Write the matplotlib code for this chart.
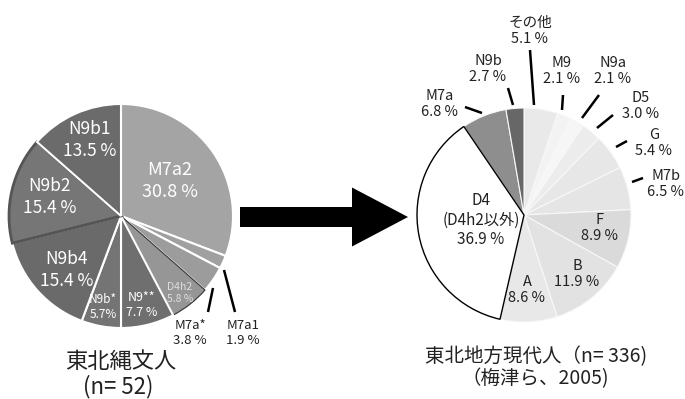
import matplotlib
matplotlib.use("Agg")
import matplotlib.pyplot as plt
from matplotlib.patches import FancyArrow

plt.rcParams['font.family'] = ['Noto Sans CJK JP', 'DejaVu Sans']

# 東北縄文人 (left pie), clockwise from 12 o'clock
jomon_labels = ['M7a2', 'M7a1', 'M7a*', 'D4h2', 'N9**', 'N9b*', 'N9b4', 'N9b2', 'N9b1']
jomon_pct = [30.8, 1.9, 3.8, 5.8, 7.7, 5.7, 15.4, 15.4, 13.5]
jomon_colors = ['#a4a4a4', '#a0a0a0', '#9c9c9c', '#969696', '#6f6f6f',
                '#747474', '#6a6a6a', '#767676', '#6b6b6b']

# 東北地方現代人 (right pie), clockwise from 12 o'clock
modern_labels = ['その他', 'M9', 'N9a', 'D5', 'G', 'M7b', 'F', 'B', 'A',
                 'D4\n(D4h2以外)', 'M7a', 'N9b']
modern_pct = [5.1, 2.1, 2.1, 3.0, 5.4, 6.5, 8.9, 11.9, 8.6, 36.9, 6.8, 2.7]
modern_colors = ['#e9e9e9', '#f3f3f3', '#f6f6f6', '#ececec', '#e7e7e7', '#e5e5e5',
                 '#dadada', '#e2e2e2', '#e8e8e8', '#ffffff', '#8e8e8e', '#676767']

W, H = 685, 399


def Y(y):
    # picture rows go down, axes go up
    return H - y


fig = plt.figure(figsize=(6.85, 3.99), dpi=100)
ax = fig.add_axes([0, 0, 1, 1])

# left pie
wl, _ = ax.pie(jomon_pct, colors=jomon_colors, startangle=90, counterclock=False,
               center=(121, Y(216)), radius=112,
               wedgeprops=dict(edgecolor='white', linewidth=1.5))
wl[3].set_edgecolor('#333333')
wl[3].set_linewidth(0.8)
wl[7].set_edgecolor('#555555')
wl[7].set_linewidth(2)

# right pie
wr, _ = ax.pie(modern_pct, colors=modern_colors, startangle=90, counterclock=False,
               center=(524, Y(215)), radius=107,
               wedgeprops=dict(edgecolor='#f8f8f8', linewidth=0.8))
wr[9].set_edgecolor('black')
wr[9].set_linewidth(1.0)
wr[9].set_zorder(3)

# text positions (pixels) and font sizes
jomon_text = {
    'M7a2': (170, 181, 13, 'white'),
    'N9b1': (90, 140, 12.5, 'white'),
    'N9b2': (50, 197, 12.5, 'white'),
    'N9b4': (67, 270, 12.5, 'white'),
    'N9b*': (103, 307, 8.5, 'white'),
    'N9**': (142, 305, 9, 'white'),
    'D4h2': (180, 293, 7.5, '#dddddd'),
    'M7a*': (190, 333, 9.5, '#222222'),
    'M7a1': (243, 333, 9.5, '#222222'),
}
for lab, pct in zip(jomon_labels, jomon_pct):
    x, y, fs, c = jomon_text[lab]
    sep = '' if lab == 'N9b*' else ' '
    ax.text(x, Y(y), f'{lab}\n{pct}{sep}%', ha='center', va='center',
            fontsize=fs, color=c, linespacing=1.25)

modern_text = {
    'その他': (530, 31, 10.5),
    'M9': (562, 71, 10.5),
    'N9a': (613, 71, 10.5),
    'D5': (641, 106, 10.5),
    'G': (654, 143, 10.5),
    'M7b': (666, 184, 10.5),
    'F': (600, 228, 10.5),
    'B': (577, 274, 10.5),
    'A': (527, 290, 10.5),
    'D4\n(D4h2以外)': (481, 220, 11),
    'M7a': (440, 104, 10.5),
    'N9b': (488, 69, 10.5),
}
for lab, pct in zip(modern_labels, modern_pct):
    x, y, fs = modern_text[lab]
    ax.text(x, Y(y), f'{lab}\n{pct:.1f} %', ha='center', va='center',
            fontsize=fs, color='#222222', linespacing=1.2)

# leader lines
leaders = [
    ((213, 288), (208, 312)), ((224, 270), (235, 312)),
    ((530, 50), (534, 105)), ((508, 88), (513, 105)), ((465, 107), (482, 113)),
    ((563, 95), (562, 110)), ((599, 95), (582, 118)), ((613, 115), (597, 128)),
    ((627, 141), (616, 147)), ((643, 178), (632, 182)),
]
for (x0, y0), (x1, y1) in leaders:
    ax.plot([x0, x1], [Y(y0), Y(y1)], color='black', linewidth=1.8,
            solid_capstyle='butt')

# arrow
ax.add_patch(FancyArrow(240, Y(217), 168, 0, width=20, head_width=59,
                        head_length=56, length_includes_head=True,
                        color='black', linewidth=0))

ax.text(121, Y(361), '東北縄文人', ha='center', va='center', fontsize=16, color='#222222')
ax.text(118, Y(387), '(n= 52)', ha='center', va='center', fontsize=16, color='#222222')
ax.text(536, Y(357), '東北地方現代人（n= 336)', ha='center', va='center',
        fontsize=14, color='#222222')
ax.text(535, Y(379), '（梅津ら、2005)', ha='center', va='center',
        fontsize=14, color='#222222')

ax.set_xlim(0, W)
ax.set_ylim(0, H)
ax.set_aspect('equal')
ax.axis('off')

fig.savefig('out.png', dpi=100)
